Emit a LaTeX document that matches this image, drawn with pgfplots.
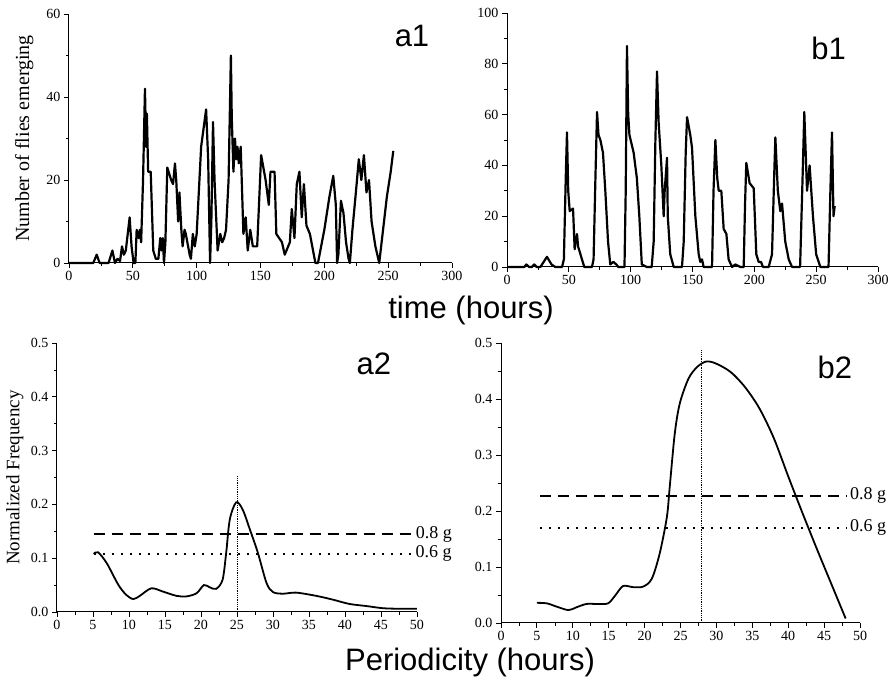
\documentclass[border=0pt]{standalone}
\usepackage{pgfplots}
\pgfplotsset{compat=1.18}
\usepackage{fontspec}
\setmainfont{Liberation Serif}
\newfontfamily\sansf{Liberation Sans}
\pgfplotsset{
  mystyle/.style={
    scale only axis, axis lines*=left, tick align=outside,
    anchor=south west, clip=false,
    axis line style={line width=1pt},
    major tick style={black, line width=0.9pt}, minor tick style={black, line width=0.7pt},
    major tick length=5pt, minor tick length=3pt,
    /pgf/number format/assume math mode=true,
    tick label style={font=\fontsize{14}{14}\selectfont},
    every axis plot/.append style={black},
  },
  thr/.style={line width=2.2pt, dash pattern=on 11pt off 7pt},
  thrd/.style={line width=2pt, dash pattern=on 2pt off 7pt},
}
\begin{document}
\begin{tikzpicture}
\path[use as bounding box] (0,0) rectangle (895pt,684pt);
% a1
\begin{axis}[mystyle, at={(69pt,421pt)}, width=383pt, height=249pt,
  xmin=0, xmax=300, ymin=0, ymax=60, xtick={0,50,...,300}, ytick={0,20,40,60},
  minor x tick num=1, minor y tick num=1,
  ylabel={\fontsize{20}{20}\selectfont Number of flies emerging}, ylabel style={at={(axis description cs:-0.117,0.5)}, anchor=center}]
\addplot[line width=2.2pt, line join=round] coordinates {
(0,0) (19,0) (21.7,2) (24,0) (31,0) (34,3) (36,0) (38,1) (40,0.5) (41.5,4) (43,2) (44.5,3) (47.5,11) (49,4) (50.6,0) (52,0) (53,8) (54.5,6) (55.5,8) (56.5,5) (58,20) (59.5,42) (60.4,28) (61,36) (62,22) (64,22) (66,3) (68,1) (70,1) (71.5,6) (72.5,3) (73.5,6) (74.4,0) (75.5,5) (77,23) (80,20) (81.5,19) (83,24) (84,20) (85.5,10) (86.5,17) (88,8) (89,4) (90.5,8) (91.5,7) (94.5,2) (95.5,1) (97,7) (98.5,4) (100,7) (103.5,28) (107.4,37) (109,25) (110.5,0) (111.5,10) (112.8,34) (114,20) (116.4,3) (118.5,7) (120,5) (121.5,6) (123,8) (125,20) (126.8,50) (127.5,35) (128.8,22) (130,30) (131,25) (132,28) (133,24) (134.5,28) (135.5,18) (136.6,7) (138.4,11) (139,8) (140,3) (142,8) (144,4) (147.4,4) (150.5,26) (154,20) (156.5,14) (157.8,22) (161,22) (162.4,7) (166.8,5) (169,2) (173,5) (174.5,13) (176.6,6) (178.4,19) (180.5,22) (182.3,11) (184,19) (186,9) (188.7,7) (193,0) (195,0) (200,8) (204,16) (207,21) (209,14) (210,0) (211,2) (213,15) (215,12) (217,5) (219,1) (220,0) (222,8) (225,18) (227,25) (229,20) (231,26) (233,17) (235,20) (237,10) (240,4) (243,0) (246,8) (249,16) (252,22) (254,27)};
\end{axis}
% b1
\begin{axis}[mystyle, at={(507pt,417pt)}, width=371pt, height=254pt,
  xmin=0, xmax=300, ymin=0, ymax=100, xtick={0,50,...,300}, ytick={0,20,...,100},
  minor x tick num=1, minor y tick num=1]
\addplot[line width=2.2pt, line join=round] coordinates {
(0,0) (14,0) (15.6,1) (18,0) (20,0) (22,1) (24,0) (27,0) (32.3,4) (36,1) (39,0) (44.5,0) (46,3) (47.5,35) (48.5,53) (49.5,30) (50.7,22) (53.4,23) (54.7,7) (55.5,10) (56.6,13) (57.5,8) (58.8,6) (60.6,3) (62.5,0) (68.7,0) (70,3) (71.5,35) (72.8,61) (74,52) (75.5,50) (77.6,45) (79.5,30) (81.7,10) (83.5,1) (86,2) (88.4,1) (90,0) (95,0) (96,30) (97,87) (98,60) (99,52) (102.4,45) (105,35) (107,20) (109,1) (113,0) (117,0) (118.6,10) (120,50) (121.3,77) (122.6,57) (124.8,40) (126.7,20) (127.5,30) (129.4,43) (130,20) (132,5) (134.8,0) (141.5,0) (142.9,10) (144.5,45) (145.6,59) (148.2,52) (149.6,47) (152.3,20) (155,5) (156.3,2) (157.7,3) (159,0) (165.8,0) (167,30) (168.5,50) (170,35) (171.2,30) (173.3,30) (175.2,15) (177.4,13) (179.2,3) (182,0) (184.6,1) (188.7,0) (191.4,0) (192.5,25) (193.5,41) (196.2,33) (199.5,31) (201.6,5) (203.5,2) (205.4,2) (207,0) (211.6,0) (214.3,5) (216,35) (217,51) (219,30) (221,22) (222.4,25) (225,10) (227.8,3) (230.5,0) (237,0) (239,35) (240.4,61) (242.6,30) (244.7,40) (247.4,20) (250,5) (253.4,0) (260,0) (261.5,30) (262.8,53) (264,20) (265,24)};
\node[font=\sansf\fontsize{31}{31}\selectfont, anchor=center] at (axis cs:260,86) {b1};
\end{axis}
% a2
\begin{axis}[mystyle, at={(57pt,72pt)}, width=360pt, height=269pt,
  xmin=0, xmax=50, ymin=0, ymax=0.5, xtick={0,5,...,50}, ytick={0,0.1,...,0.5},
  minor x tick num=1, minor y tick num=1,
  yticklabel style={/pgf/number format/.cd, fixed, fixed zerofill, precision=1},
  ylabel={\fontsize{19}{19}\selectfont Normalized Frequency}, ylabel style={at={(axis description cs:-0.117,0.5)}, anchor=center}]
\addplot[line width=1.8pt, smooth] coordinates {
(5.1,0.108) (5.7,0.111) (6.9,0.091) (8.5,0.051) (9.6,0.032) (10.6,0.024) (11.5,0.030) (13.1,0.044) (14.7,0.038) (16.6,0.030) (18,0.029) (19.4,0.035) (20.4,0.050) (21.2,0.046) (22.1,0.043) (23,0.06) (23.5,0.11) (24,0.172) (24.9,0.204) (25.8,0.19) (26.8,0.153) (27.9,0.11) (29.1,0.054) (30,0.037) (31.4,0.034) (33.2,0.036) (36,0.030) (38.3,0.023) (40.6,0.015) (43,0.011) (45.3,0.007) (47.6,0.006) (50,0.006)};
\addplot[thr] coordinates {(5.1,0.145) (49.4,0.145)} node[pos=1, anchor=west, font=\fontsize{18}{18}\selectfont, inner sep=2pt] {0.8 g};
\addplot[thrd] coordinates {(5.1,0.108) (49.4,0.108)} node[pos=1, anchor=west, font=\fontsize{18}{18}\selectfont, inner sep=2pt] {0.6 g};
\addplot[line width=0.8pt, densely dotted] coordinates {(25,0) (25,0.252)};
\node[font=\sansf\fontsize{31}{31}\selectfont, anchor=center] at (axis cs:44,0.461) {a2};
\end{axis}
% b2
\begin{axis}[mystyle, at={(501pt,61pt)}, width=359pt, height=280pt,
  xmin=0, xmax=50, ymin=0, ymax=0.5, xtick={0,5,...,50}, ytick={0,0.1,...,0.5},
  minor x tick num=1, minor y tick num=1,
  yticklabel style={/pgf/number format/.cd, fixed, fixed zerofill, precision=1}]
\addplot[line width=1.8pt, smooth] coordinates {
(5,0.036) (6.4,0.035) (7.8,0.029) (9.4,0.023) (10.5,0.028) (11.9,0.034) (13.3,0.034) (14.9,0.035) (15.9,0.049) (17,0.066) (18.4,0.064) (19.8,0.065) (21,0.079) (22.1,0.124) (23.1,0.189) (23.5,0.243) (24.2,0.338) (24.9,0.392) (26.1,0.436) (27.3,0.457) (28.6,0.467) (30,0.463) (32,0.448) (34,0.421) (36,0.383) (38,0.330) (40,0.262) (42,0.196) (44,0.132) (46,0.070) (48,0.008)};
\addplot[thr] coordinates {(5.4,0.227) (48.2,0.227)} node[pos=1, anchor=west, font=\fontsize{18}{18}\selectfont, inner sep=2pt] {0.8 g};
\addplot[thrd] coordinates {(5.4,0.170) (48.2,0.170)} node[pos=1, anchor=west, font=\fontsize{18}{18}\selectfont, inner sep=2pt] {0.6 g};
\addplot[line width=0.8pt, densely dotted] coordinates {(27.85,0) (27.85,0.488)};
\node[font=\sansf\fontsize{31}{31}\selectfont, anchor=center] at (axis cs:46.5,0.456) {b2};
\end{axis}
\node[font=\sansf\fontsize{31}{31}\selectfont] at (412pt,648pt) {a1};
\node[font=\sansf\fontsize{31}{31}\selectfont] at (471pt,374pt) {time (hours)};
\node[font=\sansf\fontsize{31}{31}\selectfont] at (470pt,22pt) {Periodicity (hours)};
\end{tikzpicture}
\end{document}
